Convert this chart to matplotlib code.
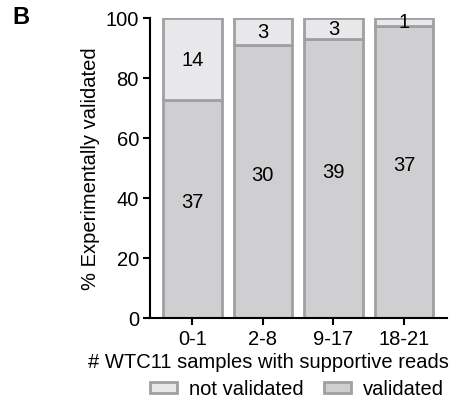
import matplotlib.pyplot as plt
import numpy as np

plt.rcParams['font.family'] = ['Liberation Sans', 'DejaVu Sans']

# --- data ---
categories = ['0-1', '2-8', '9-17', '18-21']
validated = np.array([37, 30, 39, 37])
not_validated = np.array([14, 3, 3, 1])

total = validated + not_validated
pct_val = validated / total * 100
pct_not = not_validated / total * 100

col_val = '#cfcfd1'
col_not = '#e8e8ea'
col_edge = '#a0a0a2'
fs = 14.5

fig = plt.figure(figsize=(4.65, 4.02), dpi=100)
ax = fig.add_axes([150/465, 1 - 319/402, 297/465, 300/402])

x = np.arange(len(categories))
w = 0.83
ax.bar(x, pct_val, w, color=col_val, edgecolor=col_edge, linewidth=2, label='validated')
ax.bar(x, pct_not, w, bottom=pct_val, color=col_not, edgecolor=col_edge, linewidth=2, label='not validated')

for i in range(len(x)):
    ax.text(x[i], pct_val[i] / 2 + 2.5, str(validated[i]), ha='center', va='center', fontsize=fs)
    ax.text(x[i], pct_val[i] + pct_not[i] / 2, str(not_validated[i]), ha='center', va='center', fontsize=fs)

ax.set_xlim(-0.6, 3.61)
ax.set_ylim(0, 100)
ax.set_yticks([0, 20, 40, 60, 80, 100])
ax.set_xticks(x)
ax.set_xticklabels(categories)
ax.tick_params(labelsize=fs, width=1.5, length=5, color='black', pad=3)
ax.spines['top'].set_visible(False)
ax.spines['right'].set_visible(False)
ax.spines['left'].set_linewidth(1.5)
ax.spines['bottom'].set_linewidth(1.5)
ax.set_ylabel('% Experimentally validated', fontsize=fs, labelpad=4)
ax.set_xlabel('# WTC11 samples with supportive reads', fontsize=fs)
ax.xaxis.set_label_coords((268 - 150) / 297, -34 / 300)

handles, labels = ax.get_legend_handles_labels()
fig.legend(handles[::-1], labels[::-1], loc='center', bbox_to_anchor=(297/465, 1 - 390/402),
           ncol=2, frameon=False, fontsize=fs, handlelength=1.35, handleheight=0.5,
           columnspacing=1.0, handletextpad=0.6, borderpad=0)

fig.text(12/465, 1 - 18/402, 'B', fontsize=17, fontweight='bold', va='center')

fig.savefig('out.png', dpi=100)
